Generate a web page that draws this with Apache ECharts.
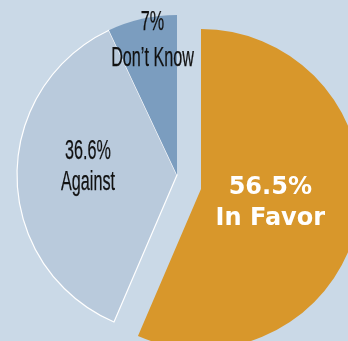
<!DOCTYPE html>
<html>
<head>
<meta charset="utf-8">
<style>
  html, body { margin: 0; padding: 0; background: #cad9e7; }
  #chart { width: 348px; height: 341px; }
</style>
<script src="https://cdn.jsdelivr.net/npm/echarts@6/dist/echarts.min.js"></script>
</head>
<body>
<div id="chart"></div>
<script>
// Survey responses, in percent
const categories = ['In Favor', 'Against', 'Don\u2019t Know'];
const shares = [56.5, 36.6, 7];
const shareLabels = ['56.5%', '36.6%', '7%'];

const colors = ['#d8972b', '#b9cadc', '#7b9dbf'];

const chart = echarts.init(document.getElementById('chart'), null, { renderer: 'canvas' });

// Two pies with identical angles: the first draws the remaining slices,
// the second draws the pulled-out "In Favor" slice from a shifted centre.
function buildData(visibleIndex) {
  return shares.map((v, i) => {
    const shown = visibleIndex(i);
    return {
      name: categories[i],
      value: v,
      itemStyle: shown ? {
        color: colors[i],
        borderColor: i === 1 ? '#ffffff' : colors[i],
        borderWidth: i === 1 ? 1.2 : 0
      } : { color: 'rgba(0,0,0,0)', borderWidth: 0 },
      label: (shown && i === 0) ? {
        show: true, position: 'inside', offset: [-12, -2],
        formatter: shareLabels[i] + '\n' + categories[i],
        color: '#ffffff', fontFamily: 'DejaVu Sans', fontWeight: 'bold',
        fontSize: 24, lineHeight: 31, align: 'center'
      } : { show: false }
    };
  });
}

const common = {
  type: 'pie',
  radius: 160,
  startAngle: 90,
  clockwise: true,
  avoidLabelOverlap: false,
  labelLine: { show: false },
  emphasis: { disabled: true },
  silent: true,
  animation: false
};

chart.setOption({
  backgroundColor: '#cad9e7',
  animation: false,
  series: [
    Object.assign({}, common, { center: [177, 175], data: buildData(i => i !== 0) }),
    Object.assign({}, common, { center: [201, 189], data: buildData(i => i === 0) })
  ]
});

// Condensed black labels for the two blue slices, anchored on each slice's
// mid-angle from the pie layout and squeezed horizontally.
const narrowLabels = [
  { index: 1, offset: [-9, -9], lineHeight: 31 },
  { index: 2, offset: [-7, -56], lineHeight: 36 }
];
const pieData = chart.getModel().getSeriesByIndex(0).getData();
const graphics = narrowLabels.map(cfg => {
  const lay = pieData.getItemLayout(cfg.index);
  const mid = (lay.startAngle + lay.endAngle) / 2;
  const rr = (lay.r + (lay.r0 || 0)) / 2;
  return {
    type: 'text',
    silent: true,
    z: 100,
    x: lay.cx + Math.cos(mid) * rr + cfg.offset[0],
    y: lay.cy + Math.sin(mid) * rr + cfg.offset[1],
    scaleX: 0.6,
    style: {
      text: shareLabels[cfg.index] + '\n' + categories[cfg.index],
      fill: '#111111',
      stroke: '#111111',
      lineWidth: 0.25,
      font: '27px "Liberation Sans", Arial, sans-serif',
      lineHeight: cfg.lineHeight,
      align: 'center',
      verticalAlign: 'middle'
    }
  };
});
chart.setOption({ graphic: graphics });
</script>
</body>
</html>
